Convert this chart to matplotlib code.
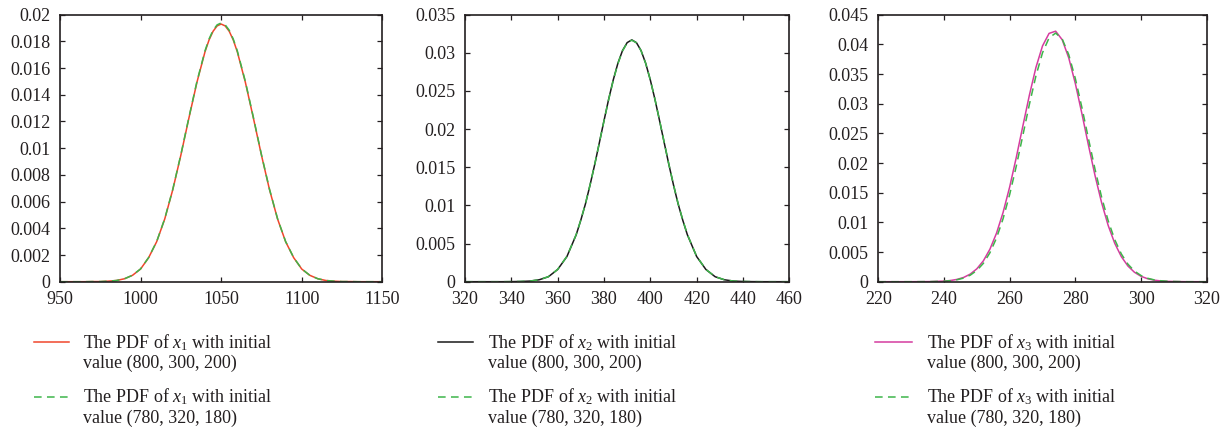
"""PDF curves of x1, x2, x3 for two initial values (three panels)."""

import matplotlib.pyplot as plt
from matplotlib.lines import Line2D

plt.rcParams["font.family"] = ["Liberation Serif", "DejaVu Serif"]
plt.rcParams["mathtext.fontset"] = "custom"
plt.rcParams["mathtext.rm"] = "Liberation Serif"
plt.rcParams["mathtext.it"] = "Liberation Serif:italic"

TEXT = "#231f20"

# ---- data ----
x1_grid = [950, 955, 960, 965, 970, 975, 980, 985, 990, 995, 1000, 1005, 1010,
           1015, 1020, 1025, 1030, 1035, 1040, 1042.5, 1045, 1047.5, 1050, 1052.5,
           1055, 1057.5, 1060, 1065, 1070, 1075, 1080, 1085, 1090, 1095, 1100,
           1105, 1110, 1115, 1120, 1125, 1130, 1135, 1140, 1145, 1150]
x1_pdf_a = [0, 0, 0, 0, 0.00001, 0.00001, 0.00004, 0.00009, 0.00022, 0.00048,
            0.00095, 0.00180, 0.00300, 0.00470, 0.00690, 0.00948, 0.01226,
            0.01495, 0.01723, 0.01811, 0.01876, 0.01916, 0.01930, 0.01916,
            0.01876, 0.01811, 0.01723, 0.01495, 0.01226, 0.00948, 0.00690,
            0.00470, 0.00300, 0.00180, 0.00095, 0.00048, 0.00022, 0.00009,
            0.00004, 0.00001, 0.00001, 0, 0, 0, 0]
x1_pdf_b = [0, 0, 0, 0, 0.00001, 0.00001, 0.00004, 0.00009, 0.00022, 0.00048,
            0.00096, 0.00181, 0.00301, 0.00472, 0.00693, 0.00952, 0.01231,
            0.01501, 0.01730, 0.01818, 0.01884, 0.01924, 0.01938, 0.01924,
            0.01884, 0.01818, 0.01730, 0.01501, 0.01231, 0.00952, 0.00693,
            0.00472, 0.00301, 0.00181, 0.00096, 0.00048, 0.00022, 0.00009,
            0.00004, 0.00001, 0.00001, 0, 0, 0, 0]

x2_grid = [320, 324, 328, 332, 336, 340, 344, 348, 352, 356, 360, 364, 368, 370,
           372, 374, 376, 378, 380, 382, 384, 386, 388, 390, 392, 394, 396, 398,
           400, 402, 404, 406, 408, 410, 412, 414, 416, 420, 424, 428, 432, 436,
           440, 444, 448, 452, 456, 460]
x2_pdf_a = [0, 0, 0, 0, 0, 0.00001, 0.00003, 0.00008, 0.00025, 0.00065, 0.00160,
            0.00330, 0.00615, 0.00807, 0.01020, 0.01269, 0.01537, 0.01822,
            0.02110, 0.02390, 0.02645, 0.02863, 0.03030, 0.03134, 0.03170,
            0.03134, 0.03030, 0.02863, 0.02645, 0.02390, 0.02110, 0.01822,
            0.01537, 0.01269, 0.01020, 0.00807, 0.00615, 0.00330, 0.00160,
            0.00065, 0.00025, 0.00008, 0.00003, 0.00001, 0, 0, 0, 0]
x2_pdf_b = [0, 0, 0, 0, 0, 0.00001, 0.00003, 0.00008, 0.00025, 0.00066, 0.00161,
            0.00332, 0.00618, 0.00810, 0.01023, 0.01271, 0.01538, 0.01821,
            0.02108, 0.02386, 0.02640, 0.02858, 0.03025, 0.03130, 0.03166,
            0.03131, 0.03028, 0.02862, 0.02645, 0.02392, 0.02113, 0.01826,
            0.01541, 0.01273, 0.01024, 0.00811, 0.00618, 0.00332, 0.00161,
            0.00066, 0.00025, 0.00008, 0.00003, 0.00001, 0, 0, 0, 0]

x3_grid = [220, 230, 236, 240, 242, 244, 246, 248, 250, 252, 254, 256, 258, 260,
           262, 264, 266, 268, 270, 272, 274, 276, 278, 280, 282, 284, 286, 288,
           290, 292, 294, 296, 298, 300, 302, 304, 306, 308, 310, 314, 320]
x3_pdf_a = [0, 0, 0.00002, 0.00010, 0.00020, 0.00039, 0.00072, 0.00128, 0.00217,
            0.00352, 0.00549, 0.00818, 0.01168, 0.01596, 0.02090, 0.02619,
            0.03142, 0.03611, 0.03973, 0.04185, 0.04222, 0.04078, 0.03771,
            0.03340, 0.02832, 0.02299, 0.01788, 0.01331, 0.00948, 0.00647,
            0.00423, 0.00265, 0.00159, 0.00091, 0.00050, 0.00026, 0.00013,
            0.00006, 0.00003, 0, 0]
x3_pdf_b = [0, 0, 0.00002, 0.00008, 0.00017, 0.00033, 0.00061, 0.00110, 0.00189,
            0.00310, 0.00489, 0.00737, 0.01063, 0.01469, 0.01943, 0.02462,
            0.02987, 0.03469, 0.03858, 0.04109, 0.04190, 0.04091, 0.03825,
            0.03424, 0.02935, 0.02409, 0.01893, 0.01425, 0.01027, 0.00708,
            0.00468, 0.00296, 0.00179, 0.00104, 0.00058, 0.00031, 0.00016,
            0.00008, 0.00004, 0, 0]

x_limits = [(950, 1150), (320, 460), (220, 320)]
x_ticks = [[950, 1000, 1050, 1100, 1150],
           [320, 340, 360, 380, 400, 420, 440, 460],
           [220, 240, 260, 280, 300, 320]]
y_limits = [(0, 0.02), (0, 0.035), (0, 0.045)]
y_ticks = [[0, 0.002, 0.004, 0.006, 0.008, 0.01, 0.012, 0.014, 0.016, 0.018, 0.02],
           [0, 0.005, 0.01, 0.015, 0.02, 0.025, 0.03, 0.035],
           [0, 0.005, 0.01, 0.015, 0.02, 0.025, 0.03, 0.035, 0.04, 0.045]]
solid_colors = ["#f0462c", "#1a1a1a", "#d53c9f"]
dash_color = "#3db54a"
init_a = "(800, 300, 200)"
init_b = "(780, 320, 180)"

grids = [x1_grid, x2_grid, x3_grid]
series_a = [x1_pdf_a, x2_pdf_a, x3_pdf_a]
series_b = [x1_pdf_b, x2_pdf_b, x3_pdf_b]

W, H = 1229, 430
fig = plt.figure(figsize=(W / 100, H / 100), dpi=100)

# axes boxes in pixels: left, right, top, bottom
boxes = [(60, 382.3, 14.7, 281.7), (465, 789.3, 14.7, 281.7), (878.3, 1206.7, 14.7, 281.7)]
# legend positions in pixels: line start, line end, text start
legend_x = [(34, 69.3, 83.3), (438.3, 473.3, 488.3), (875, 911.7, 926.7)]


def fx(px):
    return px / W


def fy(py):
    return 1 - py / H


def fmt(v):
    if v == 0:
        return "0"
    return ("%.3f" % v).rstrip("0")


for i in range(3):
    l, r, t, b = boxes[i]
    ax = fig.add_axes([fx(l), fy(b), (r - l) / W, (b - t) / H])
    ax.plot(grids[i], series_a[i], color=solid_colors[i], lw=1.1)
    ax.plot(grids[i], series_b[i], color=dash_color, lw=1.1, dashes=(5, 3.5))
    ax.set_xlim(*x_limits[i])
    ax.set_ylim(*y_limits[i])
    ax.set_xticks(x_ticks[i])
    ax.set_yticks(y_ticks[i])
    ax.set_yticklabels([fmt(v) for v in y_ticks[i]])
    ax.tick_params(direction="in", length=3.5, width=0.9, top=True, right=True,
                   labelsize=13, colors=TEXT, pad=7)
    for sp in ax.spines.values():
        sp.set_linewidth(1.2)
        sp.set_color(TEXT)

    # legend under each panel
    x0, x1, xt = legend_x[i]
    var = "$x_%d$" % (i + 1)
    for j, (line_y, init) in enumerate([(342.3, init_a), (396.5, init_b)]):
        ln = Line2D([fx(x0), fx(x1)], [fy(line_y), fy(line_y)], transform=fig.transFigure,
                    color=solid_colors[i] if j == 0 else dash_color, lw=1.1)
        if j == 1:
            ln.set_dashes((5, 3.5))
        fig.add_artist(ln)
        fig.text(fx(xt), fy(line_y + 5.8), "The PDF of %s with initial" % var,
                 fontsize=13, color=TEXT, va="baseline", ha="left")
        fig.text(fx(xt), fy(line_y + 26), "value %s" % init,
                 fontsize=13, color=TEXT, va="baseline", ha="left")

fig.savefig("out.png", dpi=100)
